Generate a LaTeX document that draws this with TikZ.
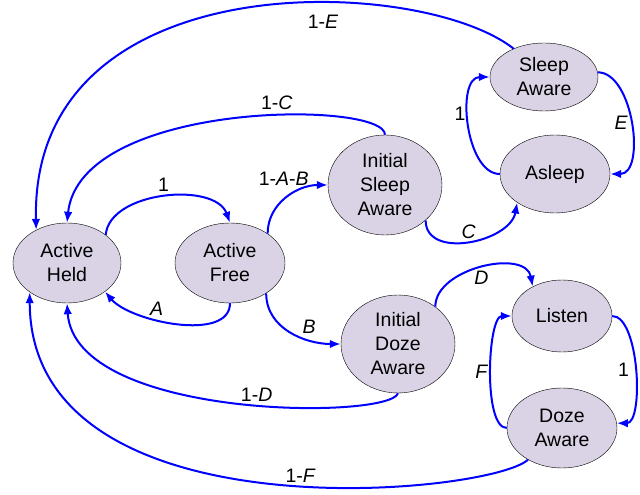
\documentclass[tikz,border=0pt]{standalone}
\usepackage{fontspec}
\setmainfont{Liberation Sans}
\usepackage{tikz}
\usetikzlibrary{arrows.meta,shapes.geometric}

\definecolor{statefill}{RGB}{218,211,230}

\begin{document}
\begin{tikzpicture}[x=1pt, y=1pt, >={Latex[length=11pt,width=8.5pt]},
    font=\fontsize{19.5}{24}\selectfont,
    state/.style={ellipse, draw, fill=statefill, inner sep=0pt, align=center},
    trans/.style={->, blue, line width=2pt},
    lbl/.style={text=black, inner sep=2pt}]
    \useasboundingbox (0,0) rectangle (640,495);
    % states
    \node[state, minimum width=108, minimum height=80] (held) at (67,232) {Active\\Held};
    \node[state, minimum width=110, minimum height=80] (free) at (230,232) {Active\\Free};
    \node[state, minimum width=114, minimum height=100] (isa) at (385,310) {Initial\\Sleep\\Aware};
    \node[state, minimum width=108, minimum height=68] (sa) at (544,418) {Sleep\\Aware};
    \node[state, minimum width=110, minimum height=78] (asleep) at (555,321) {Asleep};
    \node[state, minimum width=114, minimum height=98] (ida) at (398,151) {Initial\\Doze\\Aware};
    \node[state, minimum width=100, minimum height=72] (listen) at (562,179) {Listen};
    \node[state, minimum width=110, minimum height=80] (da) at (562,67) {Doze\\Aware};
    % transitions
    \draw[trans] (held.36) to[out=85, in=110, looseness=0.9] node[lbl, pos=0.5, above=2pt] {1} (free.north);
    \draw[trans] (free.south) to[out=-90, in=-50, looseness=0.8] node[lbl, pos=0.62, above=1pt] {\textit{A}} (held.-37);
    \draw[trans] (free.38) to[out=90, in=180] node[lbl, pos=0.75, anchor=south east, xshift=6pt] {1-\textit{A}-\textit{B}} (isa.west);
    \draw[trans] (free.-40) to[out=-90, in=180] node[lbl, pos=0.7, above=3pt] {\textit{B}} (ida.west);
    \draw[trans] (isa.-41) to[out=-90, in=-100, looseness=1.1] node[lbl, pos=0.5, above] {\textit{C}} (asleep.-143);
    \draw[trans] (isa.north) .. controls (385,395) and (80,395) .. node[lbl, pos=0.4, above=3pt] {1-\textit{C}} (held.north);
    \draw[trans] (sa.137) .. controls (420,520) and (30,535) .. node[lbl, pos=0.37, below=10pt] {1-\textit{E}} (held.133);
    \draw[trans] (sa.5) to[out=0, in=0, looseness=0.9] node[lbl, pos=0.5, left] {\textit{E}} (asleep.east);
    \draw[trans] (asleep.west) to[out=180, in=180, looseness=0.9] node[lbl, pos=0.58, left] {1} (sa.west);
    \draw[trans] (ida.45) to[out=90, in=100] node[lbl, pos=0.5, below] {\textit{D}} (listen.135);
    \draw[trans] (listen.east) to[out=0, in=0, looseness=0.65] node[lbl, pos=0.5, left=3pt] {1} (da.5);
    \draw[trans] (da.west) to[out=180, in=180, looseness=0.55] node[lbl, pos=0.5, left] {\textit{F}} (listen.west);
    \draw[trans] (ida.south) .. controls (390,75) and (75,75) .. node[lbl, pos=0.45, above] {1-\textit{D}} (held.south);
    \draw[trans] (da.-137) .. controls (490,0) and (30,-45) .. node[lbl, pos=0.45, above] {1-\textit{F}} (held.-142);
\end{tikzpicture}
\end{document}
